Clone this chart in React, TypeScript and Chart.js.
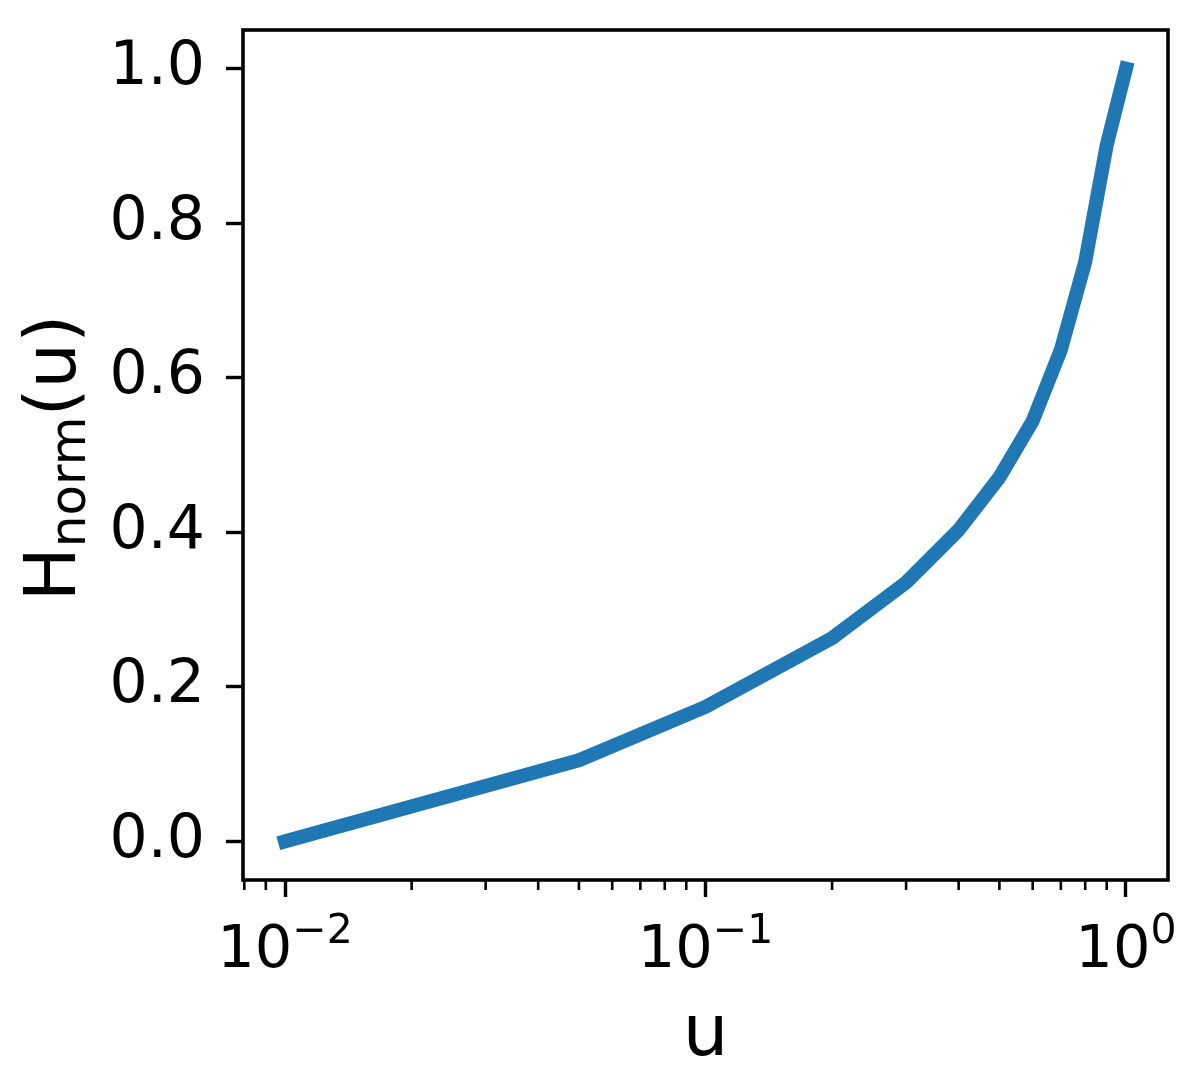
import React, { useEffect, useRef } from "react";
import { Chart, registerables } from "chart.js";

Chart.register(...registerables);

// ---- data ----
const uValues = [0.01, 0.05, 0.1, 0.2, 0.3, 0.4, 0.5, 0.6, 0.7, 0.8, 0.9, 1.0];
const hNormValues = [0.0, 0.105, 0.174, 0.263, 0.335, 0.403, 0.471, 0.544, 0.636, 0.75, 0.901, 1.0];

const xMajorTicks = [0.01, 0.1, 1];
const xTickBase = "10";
const xTickExponents = ["−2", "−1", "0"];
const xMinorTicks = [
  0.008, 0.009,
  0.02, 0.03, 0.04, 0.05, 0.06, 0.07, 0.08, 0.09,
  0.2, 0.3, 0.4, 0.5, 0.6, 0.7, 0.8, 0.9,
];
const yTicks = [0, 0.2, 0.4, 0.6, 0.8, 1.0];
const yTickLabels = ["0.0", "0.2", "0.4", "0.6", "0.8", "1.0"];

const xLabel = "u";
const yLabelMain = "H";
const yLabelSub = "norm";
const yLabelTail = "(u)";

const FONT = "'DejaVu Sans', sans-serif";
const LINE_COLOR = "#1f77b4";

const W = 1193;
const H = 1071;

const decorPlugin = {
  id: "decor",
  afterDraw(chart: any) {
    const { ctx, chartArea } = chart;
    const xs = chart.scales.x;
    const { left, right, top, bottom } = chartArea;
    ctx.save();
    // frame
    ctx.strokeStyle = "#000";
    ctx.lineWidth = 3.6;
    ctx.strokeRect(left, top, right - left, bottom - top);
    // minor x ticks
    ctx.lineWidth = 2.6;
    for (const v of xMinorTicks) {
      const px = xs.getPixelForValue(v);
      if (px < left - 1 || px > right + 1) continue;
      ctx.beginPath();
      ctx.moveTo(px, bottom);
      ctx.lineTo(px, bottom + 10);
      ctx.stroke();
    }
    ctx.fillStyle = "#000";
    ctx.textBaseline = "alphabetic";
    // x tick labels with superscript exponents
    const baseFont = `59px ${FONT}`;
    const supFont = `41px ${FONT}`;
    xMajorTicks.forEach((v, i) => {
      const px = xs.getPixelForValue(v);
      ctx.font = baseFont;
      const wb = ctx.measureText(xTickBase).width;
      ctx.font = supFont;
      const we = ctx.measureText(xTickExponents[i]).width;
      const x0 = px - (wb + we) / 2;
      ctx.textAlign = "left";
      ctx.font = baseFont;
      ctx.fillText(xTickBase, x0, 967);
      ctx.font = supFont;
      ctx.fillText(xTickExponents[i], x0 + wb, 943);
    });
    // x label
    ctx.textAlign = "center";
    ctx.font = `72px ${FONT}`;
    ctx.fillText(xLabel, (left + right) / 2, 1055);
    // y label with subscript
    ctx.translate(75, (top + bottom) / 2 + 3);
    ctx.rotate(-Math.PI / 2);
    ctx.textAlign = "left";
    const mainFont = `72px ${FONT}`;
    const subFont = `50px ${FONT}`;
    ctx.font = mainFont;
    const wMain = ctx.measureText(yLabelMain).width;
    const wTail = ctx.measureText(yLabelTail).width;
    ctx.font = subFont;
    const wSub = ctx.measureText(yLabelSub).width;
    const total = wMain + wSub + wTail;
    let x0 = -total / 2;
    ctx.font = mainFont;
    ctx.fillText(yLabelMain, x0, 0);
    x0 += wMain;
    ctx.font = subFont;
    ctx.fillText(yLabelSub, x0, 10);
    x0 += wSub;
    ctx.font = mainFont;
    ctx.fillText(yLabelTail, x0, 0);
    ctx.restore();
  },
};

export default function App() {
  const canvasRef = useRef<HTMLCanvasElement | null>(null);

  useEffect(() => {
    document.body.style.margin = "0";
    const canvas = canvasRef.current;
    if (!canvas) return;
    const chart = new Chart(canvas, {
      type: "line",
      data: {
        datasets: [
          {
            data: uValues.map((u, i) => ({ x: u, y: hNormValues[i] })),
            borderColor: LINE_COLOR,
            backgroundColor: LINE_COLOR,
            borderWidth: 14,
            borderCapStyle: "square",
            borderJoinStyle: "round",
            pointRadius: 0,
            tension: 0,
            fill: false,
          },
        ],
      },
      options: {
        animation: false,
        responsive: false,
        devicePixelRatio: 1,
        layout: { padding: { top: 30, right: 25, left: 0, bottom: 0 } },
        plugins: {
          legend: { display: false },
          tooltip: { enabled: false },
        },
        scales: {
          x: {
            type: "logarithmic",
            min: Math.pow(10, -2.1),
            max: Math.pow(10, 0.1),
            afterBuildTicks: (scale: any) => {
              scale.ticks = xMajorTicks.map((v) => ({ value: v }));
            },
            afterFit: (scale: any) => {
              scale.height = H - 880;
              scale.paddingLeft = 0;
              scale.paddingRight = 0;
              scale.paddingTop = 0;
              scale.paddingBottom = 0;
            },
            grid: {
              drawOnChartArea: false,
              drawTicks: true,
              tickLength: 17,
              tickWidth: 3.4,
              tickColor: "#000",
            },
            border: { display: false },
            ticks: {
              autoSkip: false,
              maxRotation: 0,
              color: "#000",
              font: { family: FONT, size: 59 },
              callback: () => "",
            },
          },
          y: {
            type: "linear",
            min: -0.05,
            max: 1.05,
            afterBuildTicks: (scale: any) => {
              scale.ticks = yTicks.map((v) => ({ value: v }));
            },
            afterFit: (scale: any) => {
              scale.width = 243;
              scale.paddingLeft = 0;
              scale.paddingRight = 0;
              scale.paddingTop = 0;
              scale.paddingBottom = 0;
            },
            grid: {
              drawOnChartArea: false,
              drawTicks: true,
              tickLength: 17,
              tickWidth: 3.4,
              tickColor: "#000",
            },
            border: { display: false },
            ticks: {
              padding: 21,
              color: "#000",
              font: { family: FONT, size: 60 },
              callback: (value: any) => {
                const i = yTicks.findIndex((t) => Math.abs(t - Number(value)) < 1e-9);
                return i >= 0 ? yTickLabels[i] : "";
              },
            },
          },
        },
      },
      plugins: [decorPlugin],
    } as any);
    return () => chart.destroy();
  }, []);

  return (
    <div style={{ width: W, height: H, background: "#fff" }}>
      <canvas ref={canvasRef} width={W} height={H} style={{ display: "block", width: W, height: H }} />
    </div>
  );
}
